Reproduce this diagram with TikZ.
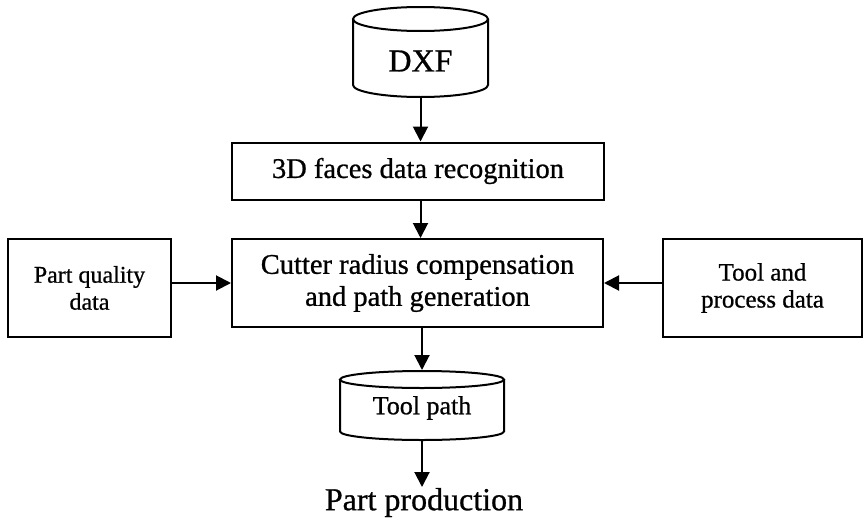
\documentclass[tikz,border=0pt]{standalone}
\usepackage{fontspec}
\setmainfont{Liberation Serif}[FakeBold=0.8]
\usetikzlibrary{arrows.meta}
\newcommand{\fsz}[2]{\fontsize{#1}{#2}\selectfont}
\begin{document}
\begin{tikzpicture}[x=1pt,y=-1pt,
  line width=2pt,
  boxnode/.style={draw, align=center, inner sep=0pt},
  arr/.style={-{Triangle[length=15pt,width=15pt]}},
  shell/.style={inner sep=0pt}]
\useasboundingbox (0,0) rectangle (864,522);

% DXF cylinder
\node[shell, minimum width=135pt, minimum height=90pt] (dxf) at (420.5,52) {};
\draw (420.5,19) ellipse [x radius=67.5, y radius=12];
\draw (353,19) -- (353,85) arc [start angle=180, end angle=0, x radius=67.5, y radius=12] -- (488,19);
\node[font=\fsz{32}{36}] (dxft) at (420.5,61) {DXF};

% processing boxes
\node[boxnode, minimum width=372pt, minimum height=57pt, font=\fsz{28.5}{32}] (faces) at (418,171) {3D faces data recognition};
\node[boxnode, minimum width=371pt, minimum height=88pt, font=\fsz{28.5}{32}] (cutter) at (417.5,283) {Cutter radius compensation\\and path generation};
\node[boxnode, minimum width=163pt, minimum height=98pt, font=\fsz{24}{27}] (quality) at (89.5,288) {Part quality\\data};
\node[boxnode, minimum width=199pt, minimum height=98pt, font=\fsz{25}{27}] (tooldata) at (762.5,288) {Tool and\\process data};

% Tool path cylinder
\node[shell, minimum width=164pt, minimum height=69pt] (tp) at (422,405.5) {};
\draw (422,379.5) ellipse [x radius=82, y radius=8.5];
\draw (340,379.5) -- (340,431.5) arc [start angle=180, end angle=0, x radius=82, y radius=8.5] -- (504,379.5);
\node[font=\fsz{26}{30}] (tpt) at (422,408) {Tool path};

% output label
\node[font=\fsz{32}{36}, inner sep=0pt, anchor=north] (prod) at (424,487) {Part production};

% connectors
\draw[arr] (dxf.south) -- (dxf.south |- faces.north);
\draw[arr] (faces.south -| dxf.south) -- (dxf.south |- cutter.north);
\draw[arr] (quality.east |- cutter.west) -- (cutter.west);
\draw[arr] (tooldata.west |- cutter.east) -- (cutter.east);
\draw[arr] (cutter.south -| tp.north) -- (tp.north);
\draw[arr] (tp.south) -- (tp.south |- prod.north);
\end{tikzpicture}
\end{document}
